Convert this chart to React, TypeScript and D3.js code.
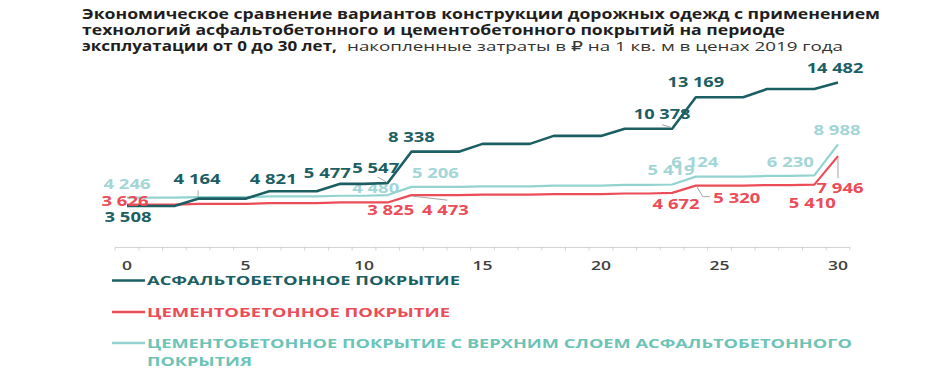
import React from "react";
import * as d3 from "d3";

// ---------- DATA ----------
const years: number[] = d3.range(0, 31);
const xTickLabels: number[] = [0, 5, 10, 15, 20, 25, 30];

const asphalt: number[] = [
  3508, 3508, 3508, 4164, 4164, 4164, 4821, 4821, 4821, 5477, 5477, 5547,
  8338, 8338, 8338, 9030, 9030, 9030, 9740, 9740, 9740, 10378, 10378, 10378,
  13169, 13169, 13169, 13900, 13900, 13900, 14482,
];
const cement: number[] = [
  3626, 3626, 3626, 3690, 3690, 3690, 3760, 3760, 3760, 3825, 3825, 3825,
  4473, 4473, 4473, 4520, 4520, 4520, 4570, 4570, 4570, 4620, 4620, 4672,
  5320, 5320, 5320, 5370, 5370, 5410, 7946,
];
const cementAsphalt: number[] = [
  4246, 4246, 4246, 4300, 4300, 4300, 4360, 4360, 4360, 4420, 4420, 4480,
  5206, 5206, 5206, 5260, 5260, 5260, 5320, 5320, 5320, 5380, 5380, 5419,
  6124, 6124, 6124, 6180, 6180, 6230, 8988,
];

const seriesNames: string[] = [
  "АСФАЛЬТОБЕТОННОЕ ПОКРЫТИЕ",
  "ЦЕМЕНТОБЕТОННОЕ ПОКРЫТИЕ",
  "ЦЕМЕНТОБЕТОННОЕ ПОКРЫТИЕ С ВЕРХНИМ СЛОЕМ АСФАЛЬТОБЕТОННОГО",
];
const legendContinuation = "ПОКРЫТИЯ";

const titleLine1 = "Экономическое сравнение вариантов конструкции дорожных одежд с применением";
const titleLine2 = "технологий асфальтобетонного и цементобетонного покрытий на периоде";
const titleLine3Bold = "эксплуатации от 0 до 30 лет,";
const titleLine3Normal = "накопленные затраты в ₽ на 1 кв. м в ценах 2019 года";

// labelled points: [seriesIndex, year]
const labelledPoints: [number, number][] = [
  [0, 0], [0, 3], [0, 6], [0, 9], [0, 11], [0, 12], [0, 23], [0, 24], [0, 30],
  [1, 0], [1, 11], [1, 12], [1, 23], [1, 24], [1, 29], [1, 30],
  [2, 0], [2, 11], [2, 12], [2, 23], [2, 24], [2, 29], [2, 30],
];

// ---------- STYLE / LAYOUT ----------
const W = 945;
const H = 379;
const colors = ["#1c5f63", "#ec4c57", "#92d3d0"];
const labelColors = ["#1c5f63", "#ec4c57", "#a3d6d6"];
const legendTextColors = ["#1c5f63", "#ec4c57", "#6cc4b6"];
const lineWidths = [2.6, 2.2, 2.2];
const FONT = "'Open Sans', 'DejaVu Sans', sans-serif";

// label offsets relative to data point (dx = label centre, dy = baseline)
const labelOffsets: Record<string, { dx: number; dy: number; leader?: [number, number][] }> = {
  "0-0": { dx: 1, dy: 15.5 },
  "0-3": { dx: -1, dy: -15, leader: [[0, -8.5], [0, -2.5]] },
  "0-6": { dx: 4, dy: -7.7 },
  "0-9": { dx: -13, dy: -5.4 },
  "0-11": { dx: -12, dy: -9.6, leader: [[-10, -6], [-1, -1]] },
  "0-12": { dx: 0, dy: -9.2 },
  "0-23": { dx: -10, dy: -10.2, leader: [[-10, -4], [0, -1]] },
  "0-24": { dx: 0, dy: -9.8 },
  "0-30": { dx: -3, dy: -10 },
  "1-0": { dx: -2, dy: 1.8 },
  "1-11": { dx: 3, dy: 13 },
  "1-12": { dx: 34, dy: 20.3, leader: [[1, 1], [36, 5]] },
  "1-23": { dx: 4, dy: 15.6 },
  "1-24": { dx: 41, dy: 17, leader: [[1, 1], [7, 11], [14, 11]] },
  "1-29": { dx: -2, dy: 23 },
  "1-30": { dx: 2, dy: 37.4, leader: [[0, 2], [0, 22]] },
  "2-0": { dx: 0, dy: -9.2 },
  "2-11": { dx: -12, dy: -1.6 },
  "2-12": { dx: 24, dy: -9.4 },
  "2-23": { dx: -1, dy: -10 },
  "2-24": { dx: -1, dy: -9.1 },
  "2-29": { dx: -24, dy: -7.9 },
  "2-30": { dx: -1, dy: -9.8 },
};

const fmt = (v: number) => d3.format(",")(v).replace(/,/g, " ");

export default function App() {
  const series = [asphalt, cement, cementAsphalt];
  const x = d3.scaleLinear().domain([0, 30]).range([127, 838]);
  const y = d3.scaleLinear().domain([0, 16000]).range([245.5, 65.44]);
  const line = d3
    .line<number>()
    .x((_, i) => x(years[i]))
    .y((d) => y(d));

  const axisY = 247.5;
  const tickPositions = d3.range(-0.5, 31, 1);

  const renderLabel = ([s, yr]: [number, number], key: string) => {
    const v = series[s][yr];
    const off = labelOffsets[`${s}-${yr}`];
    const px = x(yr);
    const py = y(v);
    const text = fmt(v);
    return (
      <g key={key}>
        {off.leader && (
          <polyline
            points={off.leader.map(([a, b]) => `${px + a},${py + b}`).join(" ")}
            fill="none"
            stroke="#a6a6a6"
            strokeWidth={1}
          />
        )}
        <text
          x={px + off.dx}
          y={py + off.dy}
          textAnchor="middle"
          fontFamily={FONT}
          fontWeight={700}
          fontSize={15}
          fill={labelColors[s]}
          textLength={text.length * 9.6 - 1}
          lengthAdjust="spacingAndGlyphs"
        >
          {text}
        </text>
      </g>
    );
  };

  return (
    <svg
      width={W}
      height={H}
      style={{ position: "absolute", left: 0, top: 0, background: "#fff" }}
    >
      {/* Title */}
      <g fontFamily={FONT} fontSize={13.5} fill="#1e1e1e">
        <text x={82} y={19} fontWeight={700} textLength={798} lengthAdjust="spacingAndGlyphs">
          {titleLine1}
        </text>
        <text x={82} y={35} fontWeight={700} textLength={703} lengthAdjust="spacingAndGlyphs">
          {titleLine2}
        </text>
        <text x={82} y={50.7} fontWeight={700} textLength={255} lengthAdjust="spacingAndGlyphs">
          {titleLine3Bold}
        </text>
        <text x={347} y={50.7} fontWeight={400} fill="#333" textLength={496} lengthAdjust="spacingAndGlyphs">
          {titleLine3Normal}
        </text>
      </g>

      {/* Axis */}
      <line x1={x(-0.5)} x2={x(30.5)} y1={axisY} y2={axisY} stroke="#d4d4d4" strokeWidth={1} />
      {tickPositions.map((t) => (
        <line key={t} x1={x(t)} x2={x(t)} y1={axisY - 1} y2={axisY + 3} stroke="#d4d4d4" strokeWidth={1} />
      ))}
      {xTickLabels.map((t) => (
        <text
          key={t}
          x={x(t)}
          y={269.5}
          textAnchor="middle"
          fontFamily={FONT}
          fontWeight={600}
          fontSize={12.5}
          fill="#404040"
          textLength={String(t).length * 10}
          lengthAdjust="spacingAndGlyphs"
        >
          {t}
        </text>
      ))}

      {/* light labels drawn under lines */}
      {labelledPoints.filter(([s]) => s === 2).map((p, i) => renderLabel(p, `l2-${i}`))}

      {/* Lines */}
      {[2, 1, 0].map((s) => (
        <path
          key={s}
          d={line(series[s]) || ""}
          fill="none"
          stroke={colors[s]}
          strokeWidth={lineWidths[s]}
          strokeLinejoin="round"
        />
      ))}

      {labelledPoints.filter(([s]) => s !== 2).map((p, i) => renderLabel(p, `l-${i}`))}

      {/* Legend */}
      <g fontFamily={FONT} fontWeight={700} fontSize={13}>
        {[0, 1, 2].map((s) => {
          const ly = [280.5, 312, 343][s];
          const widths = [313, 303, 705];
          return (
            <g key={s}>
              <line x1={112} x2={145} y1={ly} y2={ly} stroke={colors[s]} strokeWidth={2.6} />
              <text
                x={147}
                y={ly + 4.7}
                fill={legendTextColors[s]}
                textLength={widths[s]}
                lengthAdjust="spacingAndGlyphs"
              >
                {seriesNames[s]}
              </text>
            </g>
          );
        })}
        <text x={147} y={366} fill={legendTextColors[2]} textLength={105} lengthAdjust="spacingAndGlyphs">
          {legendContinuation}
        </text>
      </g>
    </svg>
  );
}
